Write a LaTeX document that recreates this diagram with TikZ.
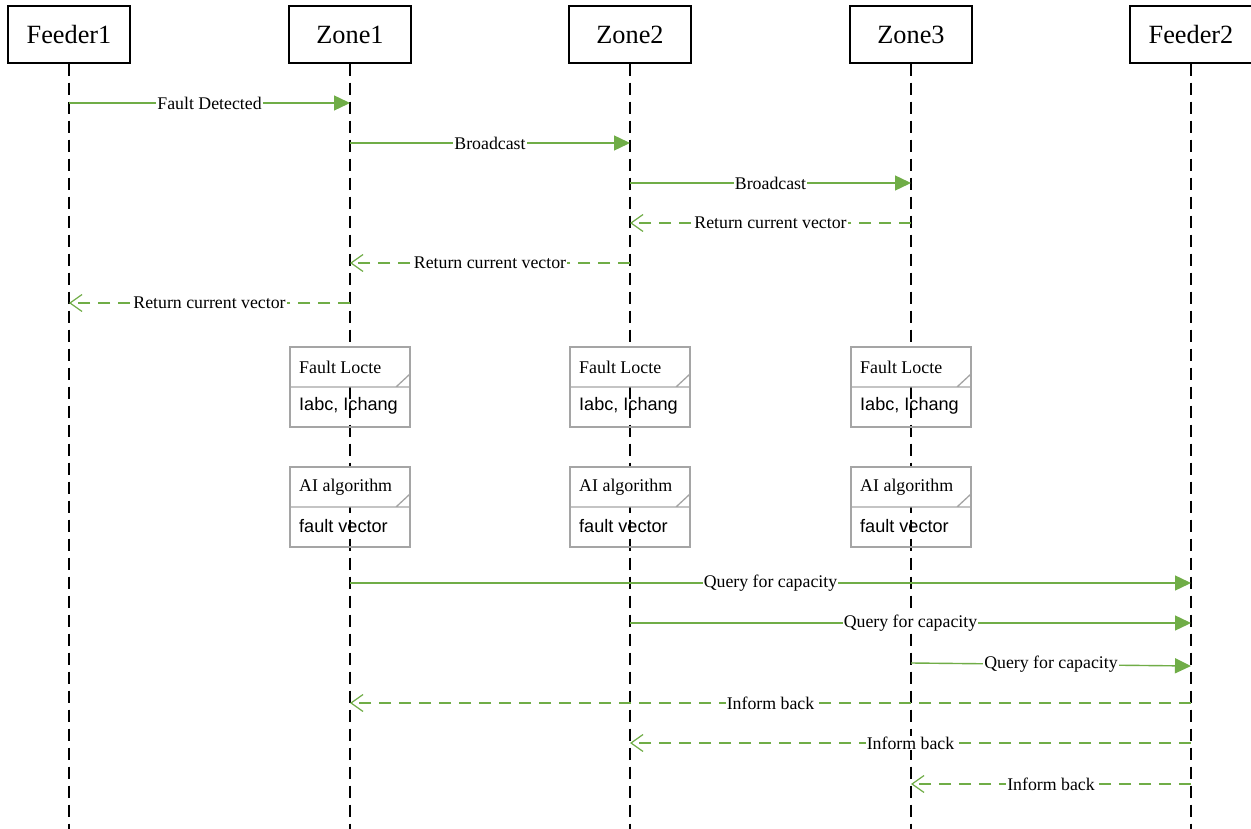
\documentclass[tikz,border=0pt]{standalone}
\usepackage{fontspec}
\setmainfont{Liberation Serif}
\newfontfamily\arialfont{Liberation Sans}
\usetikzlibrary{arrows.meta}
\definecolor{msggreen}{RGB}{112,173,71}
\definecolor{framegray}{RGB}{165,165,165}
\begin{document}
\begin{tikzpicture}[x=1pt,y=-1pt,
  actor/.style={draw=black, line width=1.2pt, minimum width=122pt, minimum height=57pt, inner sep=0pt, font=\fontsize{26.3}{30}\selectfont},
  lifeline/.style={draw=black, line width=1.3pt, dash pattern=on 12pt off 7pt},
  call/.style={draw=msggreen, line width=1.4pt, -{Triangle[length=16pt,width=15pt]}},
  reply/.style={draw=msggreen, line width=1.4pt, dash pattern=on 12pt off 8pt, -{Straight Barb[length=12pt,width=17pt,line width=1.2pt]}},
  msglabel/.style={fill=white, inner sep=1pt, font=\fontsize{17.8}{20}\selectfont, text=black},
  frameline/.style={draw=framegray, line width=1.3pt},
  frametitle/.style={anchor=west, inner sep=0pt, font=\fontsize{17.9}{20}\selectfont},
  framebody/.style={anchor=west, inner sep=0pt, font=\arialfont\fontsize{18.1}{20}\selectfont},
]
\useasboundingbox (0,0) rectangle (1251,829);
\fill[white] (0,0) rectangle (1251,829);

% actors
\node[actor] (F1) at (69,34.5) {Feeder1};
\node[actor] (Z1) at (350,34.5) {Zone1};
\node[actor] (Z2) at (630,34.5) {Zone2};
\node[actor] (Z3) at (911,34.5) {Zone3};
\node[actor] (F2) at (1191,34.5) {Feeder2};

% lifeline ends
\coordinate (F1e) at (69,829);
\coordinate (Z1e) at (350,829);
\coordinate (Z2e) at (630,829);
\coordinate (Z3e) at (911,829);
\coordinate (F2e) at (1191,829);
\draw[lifeline] (F1.south) -- (F1e);
\draw[lifeline] (Z1.south) -- (Z1e);
\draw[lifeline] (Z2.south) -- (Z2e);
\draw[lifeline] (Z3.south) -- (Z3e);
\draw[lifeline] (F2.south) -- (F2e);

% message anchor points
\coordinate (m1a) at (69,103);   \coordinate (m1b) at (350,103);
\coordinate (m2a) at (350,143);  \coordinate (m2b) at (630,143);
\coordinate (m3a) at (630,183);  \coordinate (m3b) at (911,183);
\coordinate (m4a) at (911,223);  \coordinate (m4b) at (630,223);
\coordinate (m5a) at (630,263);  \coordinate (m5b) at (350,263);
\coordinate (m6a) at (350,303);  \coordinate (m6b) at (69,303);
\coordinate (q1a) at (350,583);  \coordinate (q1b) at (1191,583);
\coordinate (q2a) at (630,623);  \coordinate (q2b) at (1191,623);
\coordinate (q3a) at (911,663);  \coordinate (q3b) at (1191,666);
\coordinate (r1a) at (1191,703); \coordinate (r1b) at (350,703);
\coordinate (r2a) at (1191,743); \coordinate (r2b) at (630,743);
\coordinate (r3a) at (1191,784); \coordinate (r3b) at (911,784);

\draw[call] (m1a) -- node[msglabel] (l1) {Fault Detected} (m1b);
\draw[call] (m2a) -- node[msglabel] (l2) {Broadcast} (m2b);
\draw[call] (m3a) -- node[msglabel] (l3) {Broadcast} (m3b);
\draw[reply] (m4a) -- node[msglabel] (l4) {Return current vector} (m4b);
\draw[reply] (m5a) -- node[msglabel] (l5) {Return current vector} (m5b);
\draw[reply] (m6a) -- node[msglabel] (l6) {Return current vector} (m6b);

% frames
\foreach \cx/\nm in {350/a,630/b,911/c}{
  \fill[white] (\cx-60,347) rectangle (\cx+60,387);
  \draw[frameline] (\cx-60,347) rectangle (\cx+60,427);
  \draw[frameline] (\cx-60,387) -- (\cx+60,387) (\cx+60,374) -- (\cx+46,387);
  \node[frametitle] (ft\nm) at (\cx-51,367) {Fault Locte};
  \node[framebody] (fb\nm) at (\cx-51,406) {Iabc, Ichang};
  \fill[white] (\cx-60,467) rectangle (\cx+60,507);
  \draw[frameline] (\cx-60,467) rectangle (\cx+60,547);
  \draw[frameline] (\cx-60,507) -- (\cx+60,507) (\cx+60,494) -- (\cx+46,507);
  \node[frametitle] (gt\nm) at (\cx-51,487) {AI algorithm};
  \node[framebody] (gb\nm) at (\cx-51,526) {fault vector};
}

\draw[call] (q1a) -- node[msglabel] (l7) {Query for capacity} (q1b);
\draw[call] (q2a) -- node[msglabel] (l8) {Query for capacity} (q2b);
\draw[call] (q3a) -- node[msglabel] (l9) {Query for capacity} (q3b);
\draw[reply] (r1a) -- node[msglabel] (l10) {Inform back} (r1b);
\draw[reply] (r2a) -- node[msglabel] (l11) {Inform back} (r2b);
\draw[reply] (r3a) -- node[msglabel] (l12) {Inform back} (r3b);
\end{tikzpicture}
\end{document}
